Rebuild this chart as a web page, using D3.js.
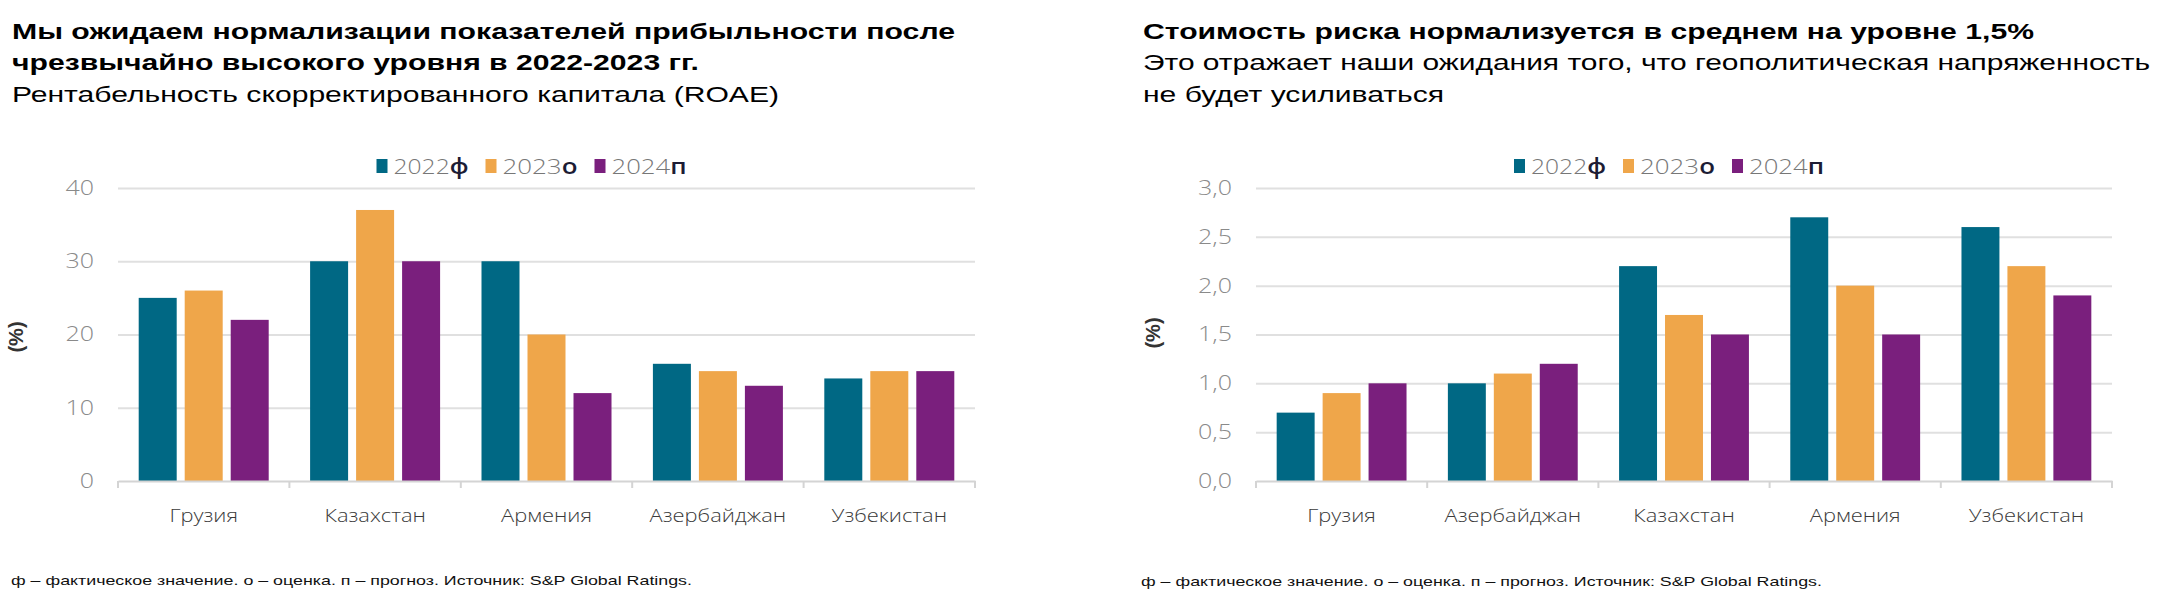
<!DOCTYPE html>
<html>
<head>
<meta charset="utf-8">
<script src="https://cdn.jsdelivr.net/npm/d3@7"></script>
<style>
  body { margin: 0; background: #fff; }
  svg { display: block; }
  .title { font-family: "Liberation Sans", Arial, sans-serif; font-weight: bold; font-size: 22px; fill: #000; }
  .subtitle { font-family: "Liberation Sans", Arial, sans-serif; font-size: 22px; fill: #000; }
  .tick text { font-family: "Open Sans", sans-serif; font-weight: 300; font-size: 20px; fill: #8a8a8a; }
  .cat text { font-family: "Open Sans", sans-serif; font-size: 19px; fill: #3a3a3a; }
  .unit { font-family: "Liberation Sans", Arial, sans-serif; font-weight: bold; font-size: 20px; fill: #333; }
  .legend { font-family: "Open Sans", sans-serif; font-weight: 300; font-size: 21px; fill: #777; }
  .note { font-family: "Liberation Sans", Arial, sans-serif; font-size: 13px; fill: #111; }
</style>
</head>
<body>
<script>
// series shared by both charts
const series = ["2022ф", "2023о", "2024п"];
const seriesColors = ["#006884", "#efa64a", "#7a1f7d"];

// left chart: ROAE, %
const roaeCountries = ["Грузия", "Казахстан", "Армения", "Азербайджан", "Узбекистан"];
const roae2022 = [25, 30, 30, 16, 14];
const roae2023 = [26, 37, 20, 15, 15];
const roae2024 = [22, 30, 12, 13, 15];
const roaeTicks = [0, 10, 20, 30, 40];

// right chart: cost of risk, %
const corCountries = ["Грузия", "Азербайджан", "Казахстан", "Армения", "Узбекистан"];
const cor2022 = [0.7, 1.0, 2.2, 2.7, 2.6];
const cor2023 = [0.9, 1.1, 1.7, 2.0, 2.2];
const cor2024 = [1.0, 1.2, 1.5, 1.5, 1.9];
const corTicks = [0, 0.5, 1.0, 1.5, 2.0, 2.5, 3.0];

const footnote = "ф – фактическое значение. о – оценка. п – прогноз. Источник: S&P Global Ratings.";

const ru = d3.formatLocale({ decimal: ",", thousands: " ", grouping: [3], currency: ["", ""] });

const svg = d3.select("body").append("svg")
    .attr("width", 2160)
    .attr("height", 608);

// stretch text horizontally, the source picture is wider than the fonts
function stretch(sel, k) {
    sel.each(function () {
        const w = this.getComputedTextLength();
        d3.select(this).attr("textLength", w * k).attr("lengthAdjust", "spacingAndGlyphs");
    });
}

function headerLines(g, x, lines) {
    lines.forEach(l => {
        g.append("text")
            .attr("class", l.cls)
            .attr("x", x)
            .attr("y", l.y)
            .attr("textLength", l.w)
            .attr("lengthAdjust", "spacingAndGlyphs")
            .text(l.text);
    });
}

function createBarChart(opts) {
    const { left, right, top, bottom, countries, values, ticks, fmt, yMax, unitX, unitY } = opts;

    const g = svg.append("g");

    const x0 = d3.scaleBand()
        .domain(countries)
        .range([left, right]);

    const x1 = d3.scaleBand()
        .domain(series)
        .range([0, x0.bandwidth()])
        .paddingInner(0.174)
        .paddingOuter(0.45);

    const y = d3.scaleLinear()
        .domain([0, yMax])
        .range([bottom, top]);

    // gridlines + tick labels
    const yAxis = g.append("g")
        .attr("transform", `translate(${left},0)`)
        .call(d3.axisLeft(y).tickValues(ticks).tickFormat(fmt).tickSize(-(right - left)).tickPadding(24));
    yAxis.select(".domain").remove();
    yAxis.selectAll(".tick line").attr("stroke", "#e0e0e0").attr("stroke-width", 2);
    yAxis.selectAll(".tick").filter(d => d === 0).select("line").remove();
    stretch(yAxis.selectAll(".tick text"), 1.25);

    // bars
    const rows = countries.map((c, i) => ({ country: c, vals: values.map(v => v[i]) }));
    const groups = g.append("g").selectAll("g")
        .data(rows)
        .join("g")
        .attr("transform", d => `translate(${x0(d.country)},0)`);
    groups.selectAll("rect")
        .data(d => d.vals.map((v, i) => ({ key: series[i], value: v, color: seriesColors[i] })))
        .join("rect")
        .attr("x", d => x1(d.key))
        .attr("y", d => y(d.value))
        .attr("width", x1.bandwidth())
        .attr("height", d => y(0) - y(d.value))
        .attr("fill", d => d.color);

    // category axis
    const xAxis = g.append("g")
        .attr("class", "cat")
        .attr("transform", `translate(0,${y(0)})`)
        .call(d3.axisBottom(x0).tickSize(0).tickPadding(28));
    xAxis.select(".domain").attr("stroke", "#d4d4d4").attr("stroke-width", 2);
    stretch(xAxis.selectAll("text"), 1.15);

    const edges = countries.map(c => x0(c)).concat([x0.range()[1]]);
    g.append("g").selectAll("line")
        .data(edges)
        .join("line")
        .attr("x1", d => d).attr("x2", d => d)
        .attr("y1", y(0)).attr("y2", y(0) + 7)
        .attr("stroke", "#d4d4d4")
        .attr("stroke-width", 2);

    // unit label
    g.append("text")
        .attr("class", "unit")
        .attr("transform", `translate(${unitX},${unitY}) rotate(-90)`)
        .attr("text-anchor", "middle")
        .text("(%)");

    // legend
    const lg = g.append("g")
        .attr("transform", `translate(${(left + right) / 2 - 170},166)`);
    series.forEach((s, i) => {
        const item = lg.append("g").attr("transform", `translate(${i * 109},0)`);
        item.append("rect")
            .attr("x", 0).attr("y", -7)
            .attr("width", 11).attr("height", 14)
            .attr("fill", seriesColors[i]);
        const t = item.append("text")
            .attr("class", "legend")
            .attr("x", 17)
            .attr("y", 7.5);
        t.append("tspan").text(s.slice(0, 4));
        t.append("tspan").attr("fill", "#1c1c34").attr("font-weight", 600).text(s.slice(4));
        t.attr("textLength", 75).attr("lengthAdjust", "spacingAndGlyphs");
    });

    return g;
}

// left panel
const leftHead = svg.append("g");
headerLines(leftHead, 12, [
    { cls: "title", y: 39, w: 943, text: "Мы ожидаем нормализации показателей прибыльности после" },
    { cls: "title", y: 70, w: 687, text: "чрезвычайно высокого уровня  в 2022-2023  гг." },
    { cls: "subtitle", y: 102, w: 767, text: "Рентабельность скорректированного капитала (ROAE)" }
]);

createBarChart({
    left: 118, right: 975, top: 188, bottom: 481,
    countries: roaeCountries,
    values: [roae2022, roae2023, roae2024],
    ticks: roaeTicks, fmt: d3.format("d"), yMax: 40,
    unitX: 23, unitY: 337
});

leftHead.append("text")
    .attr("class", "note")
    .attr("x", 11).attr("y", 585)
    .attr("textLength", 681).attr("lengthAdjust", "spacingAndGlyphs")
    .text(footnote);

// right panel
const rightHead = svg.append("g");
headerLines(rightHead, 1143, [
    { cls: "title", y: 39, w: 891, text: "Стоимость риска нормализуется в среднем на уровне 1,5%" },
    { cls: "subtitle", y: 70, w: 1007, text: "Это отражает наши ожидания того, что геополитическая напряженность" },
    { cls: "subtitle", y: 102, w: 301, text: "не будет усиливаться" }
]);

createBarChart({
    left: 1256, right: 2112, top: 188, bottom: 481,
    countries: corCountries,
    values: [cor2022, cor2023, cor2024],
    ticks: corTicks, fmt: ru.format(".1f"), yMax: 3,
    unitX: 1160, unitY: 333
});

rightHead.append("text")
    .attr("class", "note")
    .attr("x", 1141).attr("y", 586)
    .attr("textLength", 681).attr("lengthAdjust", "spacingAndGlyphs")
    .text(footnote);
</script>
</body>
</html>
